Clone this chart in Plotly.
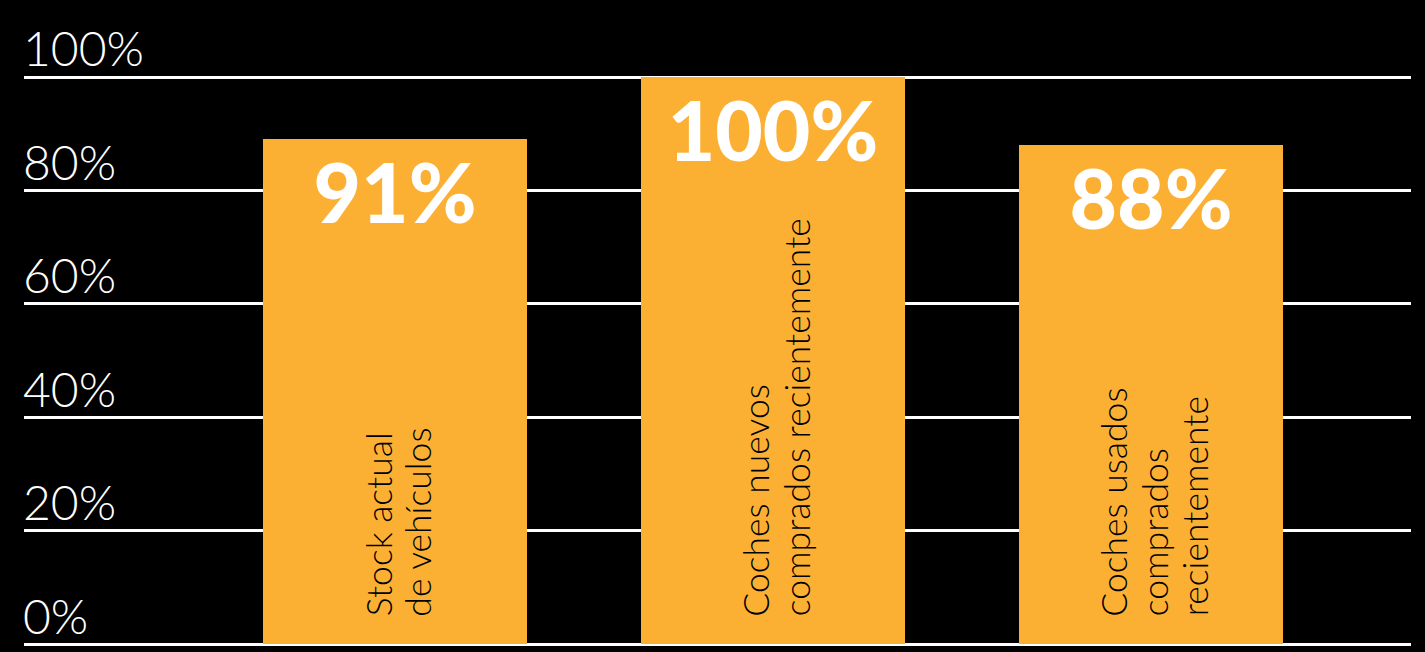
import plotly.graph_objects as go

categories = ["Stock actual<br>de vehículos",
              "Coches nuevos<br>comprados recientemente",
              "Coches usados<br>comprados<br>recientemente"]
bar_values = [89, 100, 88]
value_labels = ["91%", "100%", "88%"]
tick_values = [0, 20, 40, 60, 80, 100]
tick_labels = ["0%", "20%", "40%", "60%", "80%", "100%"]

ORANGE = "#FBB034"
LINE_GAP = 40  # px between rotated label lines

fig = go.Figure()
fig.add_trace(go.Bar(
    x=list(range(len(categories))), y=bar_values,
    marker=dict(color=ORANGE, line=dict(width=0)),
    width=0.698,
    text=value_labels, textposition="inside", insidetextanchor="end",
    textangle=0,
    textfont=dict(family="Lato", size=82, color="white", weight=900),
    cliponaxis=False, hoverinfo="skip",
))

for i, cat in enumerate(categories):
    lines = cat.split("<br>")
    n = len(lines)
    for j, line in enumerate(lines):
        fig.add_annotation(
            x=i, y=0, xref="x", yref="y", text=line, textangle=-90,
            showarrow=False, xanchor="center", yanchor="bottom", align="left",
            yshift=26, xshift=3 + (j - (n - 1) / 2) * LINE_GAP,
            font=dict(family="Lato", size=35.5, color="black", weight=300),
        )

fig.update_layout(
    width=1425, height=652,
    paper_bgcolor="black", plot_bgcolor="black",
    margin=dict(l=24, r=14, t=9, b=2),
    showlegend=False, bargap=0,
    xaxis=dict(range=[-0.981, 2.688], showgrid=False, zeroline=False,
               showticklabels=False, showline=False, fixedrange=True),
    yaxis=dict(range=[-1, 112], tickvals=tick_values, ticktext=tick_labels,
               showgrid=True, gridcolor="white", gridwidth=2.5,
               zeroline=False, showline=False, ticks="",
               ticklabelposition="inside top", ticklabelstandoff=-4,
               ticklabelshift=6,
               tickfont=dict(family="Lato", size=48, color="white", weight=300)),
)

fig.write_html("out.html")
